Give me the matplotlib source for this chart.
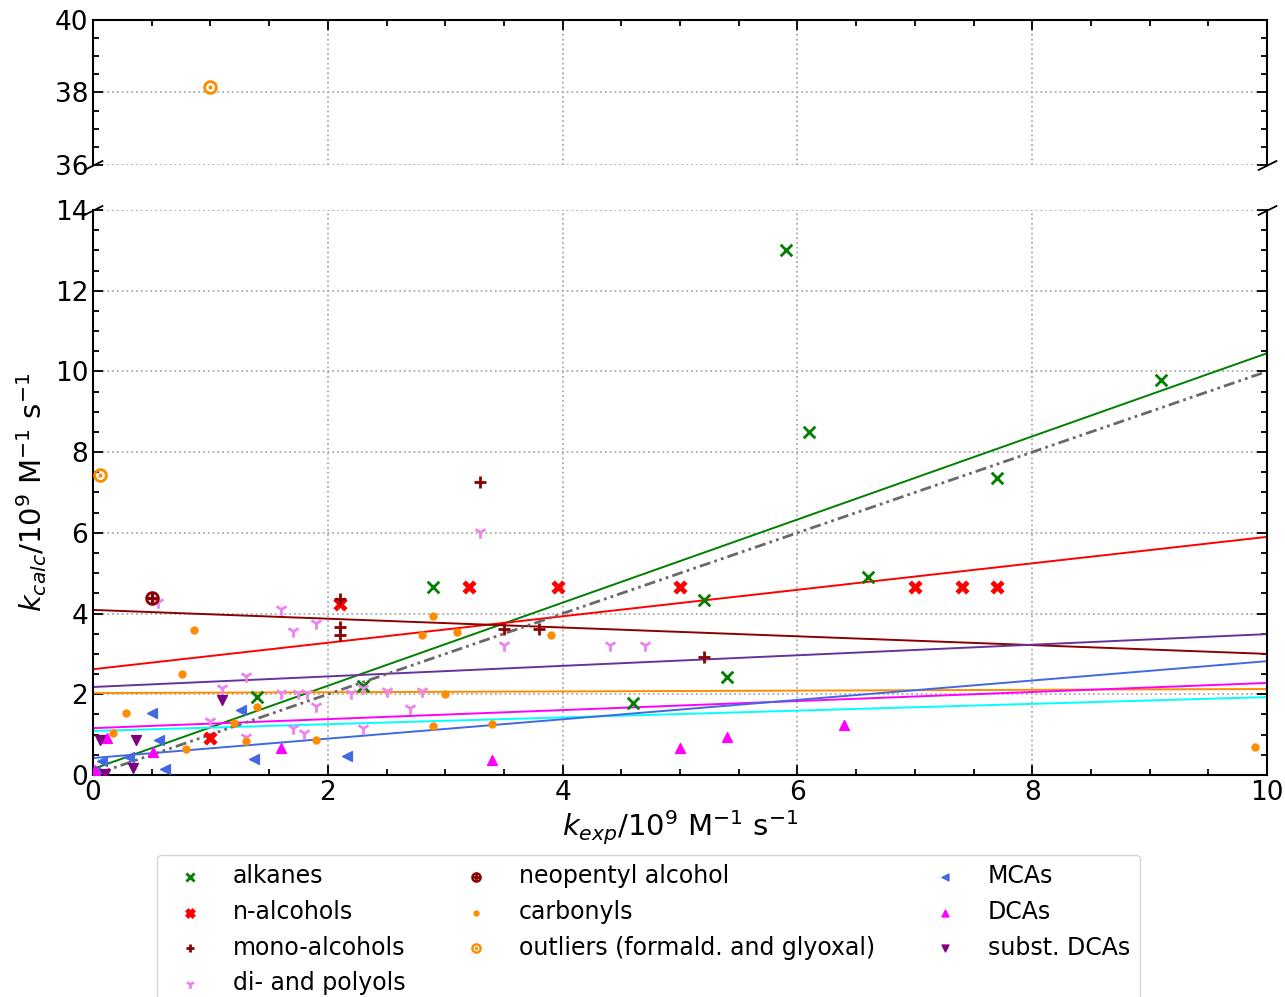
import numpy as np
import matplotlib
matplotlib.use("Agg")
import matplotlib.pyplot as plt

# data (k in 10^9 M^-1 s^-1)
alk_x = [1.4, 2.3, 2.9, 4.6, 5.2, 5.4, 5.9, 6.1, 6.6, 7.7, 9.1]
alk_y = [1.93, 2.2, 4.65, 1.78, 4.33, 2.43, 13.0, 8.5, 4.9, 7.35, 9.78]

nalc_x = [1.0, 2.1, 3.2, 3.96, 5.0, 7.0, 7.4, 7.7]
nalc_y = [0.92, 4.23, 4.66, 4.66, 4.66, 4.66, 4.66, 4.66]

mono_x = [2.1, 2.1, 2.1, 3.3, 3.5, 3.8, 5.2]
mono_y = [4.36, 3.66, 3.47, 7.26, 3.62, 3.62, 2.92]

poly_x = [0.55, 1.0, 1.1, 1.3, 1.3, 1.6, 1.6, 1.7, 1.7, 1.75, 1.8, 1.82,
          1.9, 1.9, 2.2, 2.3, 2.3, 2.5, 2.7, 2.8, 3.3, 3.5, 4.4, 4.7]
poly_y = [4.29, 1.34, 2.16, 2.45, 0.94, 4.11, 2.03, 3.57, 1.16, 2.03, 1.05, 2.03,
          3.77, 1.71, 2.03, 2.16, 1.16, 2.08, 1.66, 2.08, 6.02, 3.22, 3.22, 3.22]

neo_x = [0.5]
neo_y = [4.38]

carb_x = [0.17, 0.28, 0.76, 0.79, 0.86, 1.2, 1.3, 1.4, 1.9, 2.8, 2.9, 2.9,
          3.0, 3.1, 3.4, 3.9, 9.9]
carb_y = [1.04, 1.54, 2.5, 0.64, 3.59, 1.29, 0.84, 1.68, 0.87, 3.47, 3.94, 1.21,
          2.0, 3.54, 1.26, 3.47, 0.7]

out_x = [0.06, 1.0]
out_y = [7.43, 38.15]

mca_x = [0.02, 0.08, 0.31, 0.5, 0.56, 0.61, 1.26, 1.37, 2.16]
mca_y = [0.07, 0.35, 0.45, 1.54, 0.87, 0.15, 1.61, 0.4, 0.47]

dca_x = [0.02, 0.12, 0.51, 1.6, 3.4, 5.0, 5.4, 6.4]
dca_y = [0.12, 0.91, 0.57, 0.67, 0.37, 0.67, 0.94, 1.24]

sdca_x = [0.06, 0.1, 0.34, 0.37, 1.1]
sdca_y = [0.87, 0.02, 0.17, 0.87, 1.86]

# fitted lines: intercept, slope
fit_icpt = [0.15, 2.62, 4.09, 2.18, 2.03, 1.16, 1.09, 0.42]
fit_slope = [1.03, 0.328, -0.109, 0.131, 0.01, 0.112, 0.084, 0.24]
fit_col = ['green', 'red', 'darkred', 'rebeccapurple', 'darkorange',
           'magenta', 'cyan', 'royalblue']

# x, y, marker, colour, label, size, linewidth
series = [
    (alk_x, alk_y, 'x', 'green', 'alkanes', 70, 2),
    (nalc_x, nalc_y, 'x', 'red', 'n-alcohols', 60, 3.5),
    (mono_x, mono_y, '+', 'darkred', 'mono-alcohols', 80, 2),
    (poly_x, poly_y, '1', 'violet', 'di- and polyols', 80, 2),
    (neo_x, neo_y, r'$\oplus$', 'darkred', 'neopentyl alcohol', 90, 1),
    (carb_x, carb_y, 'o', 'darkorange', 'carbonyls', 25, 1),
    (out_x, out_y, r'$\odot$', 'darkorange', 'outliers (formald. and glyoxal)', 90, 1),
    (mca_x, mca_y, '<', 'royalblue', 'MCAs', 50, 1),
    (dca_x, dca_y, '^', 'magenta', 'DCAs', 50, 1),
    (sdca_x, sdca_y, 'v', 'purple', 'subst. DCAs', 50, 1),
]

fig = plt.figure(figsize=(12.85, 9.97), dpi=100)
ax_top = fig.add_axes([0.0724, 0.8345, 0.9136, 0.1455])
ax_bot = fig.add_axes([0.0724, 0.2227, 0.9136, 0.5667])

xx = np.array([0, 10])
for ax in (ax_top, ax_bot):
    for b, m, c in zip(fit_icpt, fit_slope, fit_col):
        ax.plot(xx, b + m * xx, color=c, lw=1.4, zorder=2)
    ax.plot(xx, xx, color='dimgray', lw=2, ls=(0, (4, 1.5, 1, 1.5, 1, 1.5)), zorder=2)
    for x, y, mk, c, lab, s, lw in series:
        ax.scatter(x, y, marker=mk, color=c, s=s, lw=lw, label=lab, zorder=3)
    ax.set_xlim(0, 10)
    ax.grid(True, ls=':', color='#aaaaaa', lw=1.3)
    ax.set_xticks([0, 2, 4, 6, 8, 10])
    ax.set_xticks(np.arange(0, 10.01, 0.5), minor=True)
    ax.tick_params(which='both', direction='in', right=True, width=1.3)
    ax.tick_params(which='major', length=7, labelsize=19)
    ax.tick_params(which='minor', length=4)
    for sp in ax.spines.values():
        sp.set_linewidth(1.5)

ax_top.set_ylim(36, 40)
ax_top.set_yticks([36, 38, 40])
ax_top.set_yticks(np.arange(36, 40.01, 0.5), minor=True)
ax_top.spines['bottom'].set_visible(False)
ax_top.tick_params(which='both', top=True, bottom=False, labelbottom=False)

ax_bot.set_ylim(0, 14)
ax_bot.set_yticks(np.arange(0, 15, 2))
ax_bot.set_yticks(np.arange(0, 14.01, 0.5), minor=True)
ax_bot.spines['top'].set_visible(False)
ax_bot.tick_params(which='both', top=False)

# break marks
d = .5
kw = dict(marker=[(-1, -d), (1, d)], markersize=14, linestyle='none',
          color='k', mec='k', mew=1.3, clip_on=False)
ax_top.plot([0, 1], [0, 0], transform=ax_top.transAxes, **kw)
ax_bot.plot([0, 1], [1, 1], transform=ax_bot.transAxes, **kw)

ax_bot.set_xlabel(r'$k_{exp}$/10$^9$ M$^{-1}$ s$^{-1}$', fontsize=21, labelpad=2)
ax_bot.set_ylabel(r'$k_{calc}$/10$^9$ M$^{-1}$ s$^{-1}$', fontsize=21)

ax_bot.legend(loc='upper center', bbox_to_anchor=(0.473, -0.12), ncol=3,
              fontsize=17, markerscale=0.7, scatterpoints=1)

fig.savefig('out.png', dpi=100)
